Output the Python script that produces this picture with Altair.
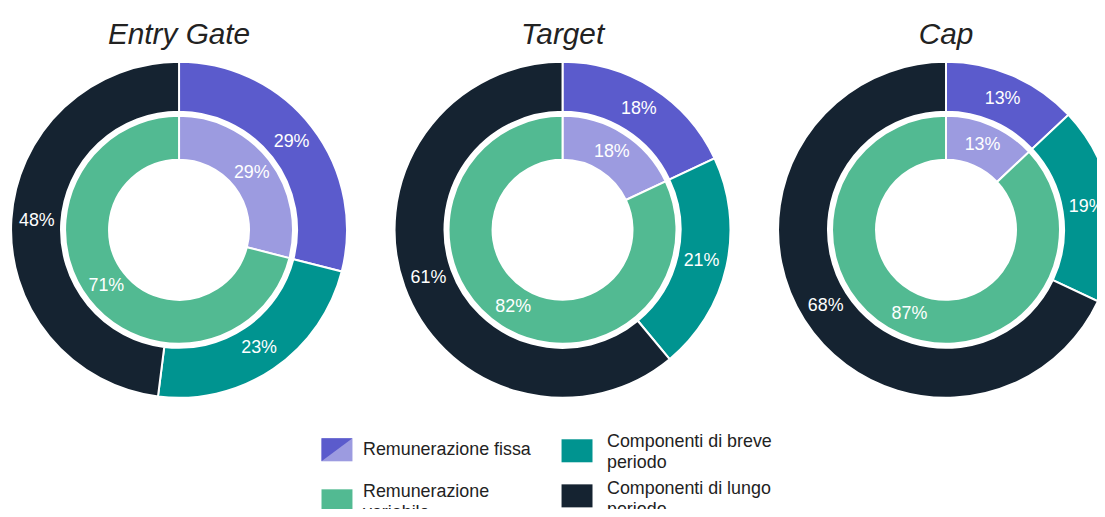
import altair as alt
import pandas as pd
import math

charts = ["Entry Gate", "Target", "Cap"]

# outer ring: fissa, breve periodo, lungo periodo
outer_fissa = [29, 18, 13]
outer_breve = [23, 21, 19]
outer_lungo = [48, 61, 68]
# inner ring: fissa, variabile
inner_fissa = [29, 18, 13]
inner_variabile = [71, 82, 87]

legend_left = ["Remunerazione fissa", "Remunerazione\nvariabile"]
legend_left_cat = ["fissa_in", "variabile"]
legend_right = ["Componenti di breve\nperiodo", "Componenti di lungo\nperiodo"]
legend_right_cat = ["breve", "lungo"]

C_FISSA_OUT = "#5B5BCC"
C_FISSA_IN = "#9C9BE0"
C_BREVE = "#009490"
C_VAR = "#52BA92"
C_LUNGO = "#152331"

rows = []
for i, c in enumerate(charts):
    for ring, parts in (("outer", [("fissa_out", outer_fissa[i]), ("breve", outer_breve[i]), ("lungo", outer_lungo[i])]),
                        ("inner", [("fissa_in", inner_fissa[i]), ("variabile", inner_variabile[i])])):
        cum = 0
        for k, v in parts:
            rows.append({"chart": c, "ring": ring, "cat": k, "pct": v,
                         "t0": cum, "t1": cum + v, "tm": cum + v / 2,
                         "lbl": f"{v}%"})
            cum += v
df = pd.DataFrame(rows)
df_outer = df[df.ring == "outer"].reset_index(drop=True)
df_inner = df[df.ring == "inner"].reset_index(drop=True)

cat_domain = ["fissa_out", "fissa_in", "breve", "variabile", "lungo"]
cat_range = [C_FISSA_OUT, C_FISSA_IN, C_BREVE, C_VAR, C_LUNGO]

W, H = 1097, 501
FONT = "Liberation Sans"
xscale = alt.Scale(type="point", domain=charts, range=[172.3, 944.9], padding=0)
theta_scale = alt.Scale(type="linear", domain=[0, 100], range=[0, 2 * math.pi])
color = alt.Color("cat:N", scale=alt.Scale(domain=cat_domain, range=cat_range), legend=None)
X = alt.X("chart:N", scale=xscale, axis=None)
CY = 221.6


def ring(data, r_out, r_in, r_lbl):
    b = alt.Chart(data).encode(x=X, y=alt.value(CY))
    arc = b.mark_arc(radius=r_out, radius2=r_in, stroke="white", strokeWidth=2).encode(
        theta=alt.Theta("t0:Q", scale=theta_scale, stack=False),
        theta2=alt.Theta2("t1:Q"),
        color=color,
    )
    txt = b.mark_text(radius=r_lbl, font=FONT, fontSize=18, color="white",
                      baseline="middle", align="center").encode(
        theta=alt.Theta("tm:Q", scale=theta_scale, stack=False),
        text="lbl:N",
    )
    return arc, txt


outer_arc, outer_txt = ring(df_outer, 169.2, 118.9, 143.5)
inner_arc, inner_txt = ring(df_inner, 114.8, 70.5, 92.7)

titles = alt.Chart(pd.DataFrame({"chart": charts})).mark_text(
    font=FONT, fontSize=30, fontStyle="italic", color="#222222", baseline="alphabetic"
).encode(x=X, y=alt.value(34.2), text="chart:N")


# legend, one column at a time
def legend_column(labels, cats, sq_x, sq_y, tx_x, tx_y):
    d = pd.DataFrame({"label": [s.split("\n") for s in labels], "row": [0, 1], "cat": cats})
    ys = alt.Y("row:Q", scale=alt.Scale(type="linear", domain=[0, 1], range=sq_y), axis=None)
    yt = alt.Y("row:Q", scale=alt.Scale(type="linear", domain=[0, 1], range=tx_y), axis=None)
    sq = alt.Chart(d).mark_point(
        shape="M -1 -0.743 L 1 -0.743 L 1 0.743 L -1 0.743 Z", size=973, filled=True, opacity=1
    ).encode(x=alt.value(sq_x), y=ys, color=color)
    tx = alt.Chart(d).mark_text(
        font=FONT, fontSize=18, color="#222222", align="left", baseline="middle", lineHeight=21.7
    ).encode(x=alt.value(tx_x), y=yt, text="label")
    return sq, tx, d, ys


sq_l, tx_l, d_l, ys_l = legend_column(legend_left, legend_left_cat, 331.4, [443.2, 494.6], 357.6, [443.2, 485.5])
sq_r, tx_r, d_r, ys_r = legend_column(legend_right, legend_right_cat, 573.2, [444.2, 489.6], 603.4, [435.2, 482.5])

# diagonal darker half of the "fissa" swatch
tri = alt.Chart(d_l).transform_filter(alt.datum.row == 0).mark_point(
    shape="M -1 -0.743 L 1 -0.743 L -1 0.743 Z", size=973, filled=True, opacity=1, color=C_FISSA_OUT
).encode(x=alt.value(331.4), y=ys_l)

chart = alt.layer(outer_arc, inner_arc, outer_txt, inner_txt, titles,
                  sq_l, tri, tx_l, sq_r, tx_r).resolve_scale(
    x="independent", y="independent"
).properties(
    width=W, height=H, padding=0, autosize=alt.AutoSizeParams(type="none")
).configure_view(stroke=None)

chart.save("out.html", embed_options={"renderer": "svg", "actions": False})
